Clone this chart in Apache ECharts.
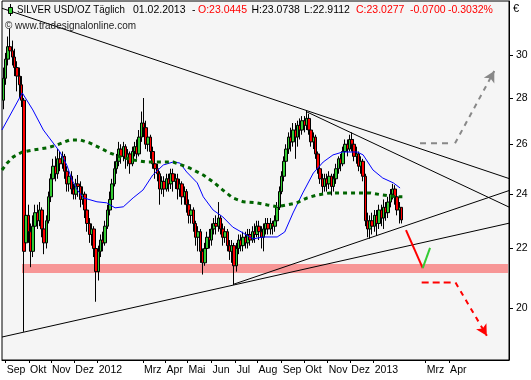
<!DOCTYPE html>
<html><head><meta charset="utf-8">
<script src="https://cdn.jsdelivr.net/npm/echarts@6/dist/echarts.min.js"></script>
<style>html,body{margin:0;padding:0;background:#fff}#c{width:531px;height:380px}</style>
</head><body><div id="c"></div>
<script>
// ---- candles: one candle every 3 calendar days, day 0 = 1 Sep 2011 ----
const candleFirstDay = -3;
const candleStepDays = 3;
const candleOpen = [
27.9,28.9,29.8,30.4,30.2,29.9,29.4,29.0,28.6,27.9,
22.2,23.2,22.6,21.9,22.8,23.3,23.0,23.4,22.7,22.2,23.0,
23.9,24.6,25.1,24.8,25.4,25.2,25.5,24.9,
24.4,24.7,24.2,24.0,24.4,24.3,23.8,24.0,23.4,22.9,22.5,22.7,22.0,21.2,
21.9,22.3,22.2,22.8,23.4,23.8,24.4,25.0,
25.3,25.8,25.5,25.9,25.4,25.6,25.2,25.7,25.9,25.6,
26.3,26.9,26.7,26.0,26.3,25.7,25.2,25.0,
24.8,24.2,24.5,24.2,24.6,24.4,24.8,24.5,24.6,24.2,24.4,
23.9,24.1,23.6,23.2,23.4,22.9,22.4,22.6,21.9,
21.5,22.0,22.4,22.3,22.7,22.9,22.8,23.1,
22.7,22.4,22.6,22.1,21.9,22.1,21.4,
22.0,22.3,22.1,22.4,22.2,22.5,22.3,22.6,22.5,22.8,22.6,22.4,22.7,22.9,22.7,22.9,22.8,
23.0,23.5,24.1,24.7,25.3,25.8,26.3,26.1,
26.6,26.3,26.8,26.6,27.0,26.8,27.1,
26.6,26.1,26.3,25.6,25.0,24.6,24.3,24.6,24.4,24.7,24.3,24.6,
25.0,25.4,25.2,25.7,26.0,25.8,26.2,
26.0,25.5,25.6,25.1,25.3,24.7,
23.0,22.7,23.0,22.8,23.2,22.9,23.4,23.1,23.5,
23.3,23.7,24.0,24.2,
23.9,23.4,23.5];
const candleClose = [
28.9,29.8,30.4,30.2,29.9,29.4,29.0,28.6,27.9,21.9,
23.2,22.6,21.9,22.8,23.3,23.0,23.4,22.7,22.2,23.0,23.9,
24.6,25.1,24.8,25.4,25.2,25.5,24.9,24.4,
24.7,24.2,24.0,24.4,24.3,23.8,24.0,23.4,22.9,22.5,22.7,22.0,21.2,21.9,
22.3,22.2,22.8,23.4,23.8,24.4,25.0,25.3,
25.8,25.5,25.9,25.4,25.6,25.2,25.7,25.9,25.6,26.3,
26.9,26.7,26.0,26.3,25.7,25.2,25.0,24.8,
24.2,24.5,24.2,24.6,24.4,24.8,24.5,24.6,24.2,24.4,23.9,
24.1,23.6,23.2,23.4,22.9,22.4,22.6,21.9,21.5,
22.0,22.4,22.3,22.7,22.9,22.8,23.1,22.7,
22.4,22.6,22.1,21.9,22.1,21.4,22.0,
22.3,22.1,22.4,22.2,22.5,22.3,22.6,22.5,22.8,22.6,22.4,22.7,22.9,22.7,22.9,22.8,23.0,
23.5,24.1,24.7,25.3,25.8,26.3,26.1,26.6,
26.3,26.8,26.6,27.0,26.8,27.1,26.6,
26.1,26.3,25.6,25.0,24.6,24.3,24.6,24.4,24.7,24.3,24.6,25.0,
25.4,25.2,25.7,26.0,25.8,26.2,26.0,
25.5,25.6,25.1,25.3,24.7,23.0,
22.7,23.0,22.8,23.2,22.9,23.4,23.1,23.5,23.3,
23.7,24.0,24.2,23.9,
23.4,23.5,23.03];
const candleLow = [
27.5,28.6,29.5,29.8,29.5,29.0,28.3,28.0,27.6,19.25,
21.9,22.2,21.35,21.7,22.5,22.7,22.8,22.4,21.8,22.0,22.9,
23.7,24.4,24.5,24.6,24.9,25.0,24.6,24.1,
24.1,24.0,23.8,23.8,23.9,23.5,23.6,23.1,22.6,22.2,22.1,21.7,20.2,20.9,
21.7,21.9,22.1,22.7,23.2,23.7,24.3,24.8,
25.1,25.2,25.3,25.0,25.1,24.8,25.1,25.5,25.4,25.5,
26.1,26.3,25.8,25.7,25.4,25.0,24.6,24.5,
23.6,24.0,23.9,24.1,24.1,24.2,24.1,24.2,23.8,23.9,23.6,
23.6,23.3,22.9,22.9,22.6,22.1,21.9,21.5,21.1,
21.4,21.8,22.0,22.1,22.5,22.5,22.6,22.5,
22.1,22.2,21.9,21.6,21.5,20.75,21.2,
21.8,21.9,21.9,22.0,22.0,22.1,22.2,22.2,22.4,22.3,22.0,21.9,22.5,22.5,22.5,22.5,22.6,
22.8,23.4,24.0,24.5,25.1,25.6,25.7,25.9,
25.4,25.9,26.2,26.4,26.5,26.6,26.4,
25.9,25.8,25.4,24.8,24.4,24.0,24.1,24.1,24.2,23.95,24.1,24.4,
24.8,24.9,25.1,25.5,25.5,25.7,25.7,
25.3,25.2,24.9,24.8,24.5,22.8,
22.4,22.35,22.5,22.6,22.45,22.7,22.8,22.7,23.0,
23.1,23.5,23.8,23.6,
23.2,22.9,22.9];
const candleHigh = [
29.4,30.1,30.9,31.3,30.7,30.3,29.7,29.4,29.0,28.0,
23.8,23.6,22.9,23.2,23.6,23.6,23.7,23.5,22.9,23.2,24.1,
24.8,25.4,25.5,25.8,25.7,25.7,25.6,25.1,
24.9,24.9,24.4,24.6,24.75,24.5,24.3,24.1,23.6,23.1,22.9,22.8,22.1,22.1,
22.5,22.6,23.0,23.6,24.1,24.6,25.3,25.6,
26.1,26.0,26.1,26.0,25.8,25.7,25.9,26.1,26.2,26.6,
27.4,28.0,27.0,26.5,26.4,25.9,25.4,25.2,
24.9,24.7,24.7,24.8,24.8,25.0,25.0,24.8,24.8,24.6,24.5,
24.3,24.2,23.8,23.6,23.5,23.0,22.8,22.7,22.0,
22.2,22.6,22.7,22.9,23.1,23.2,23.7,23.2,
22.9,22.8,22.7,22.3,22.3,22.2,22.2,
22.5,22.5,22.6,22.6,22.7,22.7,22.8,22.9,23.0,23.0,22.8,22.9,23.1,23.1,23.1,23.0,23.2,
23.7,24.3,24.9,25.5,26.0,26.5,26.7,26.9,
26.9,27.0,27.1,27.2,27.2,27.45,27.3,
26.8,26.5,26.4,25.7,25.1,24.8,24.8,24.8,24.9,24.8,24.8,25.2,
25.5,25.6,25.9,26.2,26.2,26.4,26.5,
26.2,25.9,25.7,25.5,25.4,24.8,
23.3,23.2,23.3,23.4,23.4,23.6,23.6,23.8,23.7,
23.9,24.2,24.4,24.35,
24.0,23.7,23.5];

// ---- moving averages (day, price) ----
const maFastDays = [-5,22,36,50,63,72,81,88,95,103,121,134,145,156,169,182,195,209,222,231,240,254,262,275,288,301,315,328,341,360,370,381,394,408,421,434,447,466,474,487,500,514,523];
const maFastVals = [26.6,28.23,27.47,26.6,26.05,25.68,25.15,24.55,24.16,23.86,23.71,23.67,23.48,23.52,23.86,24.16,24.75,25.15,25.27,25.23,24.87,24.44,23.9,23.4,23.14,22.77,22.55,22.34,22.41,22.41,22.59,23.29,24.05,24.83,25.27,25.56,25.68,25.68,25.56,24.95,24.63,24.44,24.24];
const maSlowDays = [-5,2,10,22,36,55,68,85,99,112,125,138,152,169,187,205,222,244,262,275,288,301,315,333,347,360,373,386,400,413,430,447,466,483,500,519,526];
const maSlowVals = [24.95,25.23,25.48,25.68,25.76,25.85,25.97,26.18,26.18,26.05,25.85,25.64,25.48,25.35,25.27,25.27,25.27,25.03,24.75,24.48,24.16,23.86,23.71,23.67,23.59,23.52,23.59,23.67,23.86,23.97,24.05,24.05,24.05,24.05,23.97,23.9,23.9];

// ---- drawn trend lines and projections (day, price) ----
const trendLines = [
  [[-4.9, 32.33], [667.4, 24.61]],
  [[399.6, 27.38], [667.4, 23.51]],
  [[302.7, 20.78], [667.4, 24.14]],
  [[-4.9, 19.09], [667.4, 22.91]]
];
const supportZone = {fromDay: 21.6, toDay: 666, low: 21.15, high: 21.46};
const projRed = [[530.8, 22.66], [553.0, 21.32]];
const projGreen = [[553.0, 21.32], [562.7, 22.02]];
const redDashFlat = [[551.6, 20.83], [593.2, 20.83]];
const redDashArrow = [[596.5, 20.83], [638.0, 19.13]];
const grayDashFlat = [[549.4, 26.04], [593.2, 26.04]];
const grayDashArrow = [[595.8, 26.04], [647.9, 29.24]];

// ---- axes ----
const dayMin = -4.9, dayMax = 667.4;
const priceMin = 18.40, priceMax = 32.71;
const priceTicks = [20, 22, 24, 26, 28, 30];
const monthTickDays = [0,31,60,91,122,182,212,241,273,305,334,366,396,427,457,488,557,588];
const monthTickLabels = ['Sep','Okt','Nov','Dez','2012','Mrz','Apr','Mai','Jun','Jul','Aug','Sep','Okt','Nov','Dez','2013','Mrz','Apr'];

const ln = Math.log;
const FONT = '"Liberation Sans", Arial, sans-serif';
const candleData = candleOpen.map((o, i) => [candleFirstDay + i * candleStepDays, ln(o), ln(candleClose[i]), ln(candleLow[i]), ln(candleHigh[i])]);
const pts = arr => arr.map(p => [p[0], ln(p[1])]);
const zip = (d, v) => d.map((x, i) => [x, ln(v[i])]);

const simpleLine = (data, color, width, type, z) => ({
  type: 'line', data: pts(data), symbol: 'none', silent: true, z: z,
  lineStyle: {color: color, width: width, type: type || 'solid'}, clip: true
});
const arrowLine = (id, data, color, dash) => ({
  id: id, type: 'line', data: pts(data), silent: true, z: 6, clip: false,
  showSymbol: true,
  symbol: (v, p) => (p.dataIndex === data.length - 1 ? 'arrow' : 'none'),
  symbolSize: [9, 11], symbolRotate: 0,
  itemStyle: {color: color, borderWidth: 0},
  lineStyle: {color: color, width: 2, type: dash}
});

const series = [
  {
    type: 'line', data: [], silent: true, z: 1,
    markArea: {
      silent: true, itemStyle: {color: '#f79696', opacity: 1},
      data: [[{xAxis: supportZone.fromDay, yAxis: ln(supportZone.high)}, {xAxis: supportZone.toDay, yAxis: ln(supportZone.low)}]]
    }
  },
  ...trendLines.map(l => simpleLine(l, '#000', 1, 'solid', 2)),
  {
    type: 'candlestick', z: 3, silent: true,
    dimensions: ['day', 'open', 'close', 'lowest', 'highest'],
    encode: {x: 'day', y: ['open', 'close', 'lowest', 'highest']},
    data: candleData, barWidth: 3,
    itemStyle: {color: '#33cc33', color0: '#ff0000', borderColor: '#000', borderColor0: '#000', borderWidth: 1}
  },
  {type: 'line', data: zip(maFastDays, maFastVals), symbol: 'none', silent: true, z: 4, lineStyle: {color: '#0000ff', width: 1}},
  {type: 'line', data: zip(maSlowDays, maSlowVals), symbol: 'none', silent: true, z: 5, lineStyle: {color: '#006400', width: 3, type: [4, 4]}},
  simpleLine(projRed, '#ff0000', 2, 'solid', 6),
  simpleLine(projGreen, '#33cc33', 2, 'solid', 6),
  simpleLine(redDashFlat, '#ff0000', 2, [7, 4], 6),
  simpleLine(grayDashFlat, '#888888', 2, [6, 5], 6),
  arrowLine('redArrow', redDashArrow, '#ff0000', [5, 5]),
  arrowLine('grayArrow', grayDashArrow, '#888888', [5, 5])
];

const txt = (x, y, text, color, size, sx) => ({
  type: 'text', x: x, y: y, silent: true, z: 100, scaleX: sx || 1,
  style: {text: text, fill: color, font: (size || 10.5) + 'px ' + FONT, verticalAlign: 'middle', align: 'left'}
});

const option = {
  animation: false,
  backgroundColor: '#ffffff',
  grid: {left: 2, right: 22, top: 1, bottom: 20, show: true, backgroundColor: '#f5f5f5', borderColor: '#000', borderWidth: 1},
  xAxis: {
    type: 'value', min: dayMin, max: dayMax,
    axisLine: {show: true, onZero: false, lineStyle: {color: '#000', width: 1}},
    splitLine: {show: false},
    axisTick: {show: true, length: 3, customValues: monthTickDays, lineStyle: {color: '#000'}},
    axisLabel: {
      customValues: monthTickDays,
      formatter: v => monthTickLabels[monthTickDays.indexOf(v)] || '',
      align: 'left', margin: 5, padding: [0, 0, 0, 1],
      fontSize: 10.5, fontFamily: FONT, color: '#000'
    }
  },
  yAxis: {
    type: 'value', position: 'right', min: ln(priceMin), max: ln(priceMax),
    axisLine: {show: true, onZero: false, lineStyle: {color: '#000', width: 1}},
    splitLine: {show: false},
    axisTick: {show: true, length: 4, customValues: priceTicks.map(ln), lineStyle: {color: '#000'}},
    axisLabel: {
      customValues: priceTicks.map(ln),
      formatter: v => String(Math.round(Math.exp(v))),
      margin: 7, fontSize: 10.5, fontFamily: FONT, color: '#000'
    }
  },
  graphic: [
    {type: 'line', silent: true, z: 100, shape: {x1: 10.5, y1: 4, x2: 10.5, y2: 16}, style: {stroke: '#000', lineWidth: 1}},
    {type: 'rect', silent: true, z: 101, shape: {x: 8.5, y: 7.5, width: 4, height: 6}, style: {fill: '#33cc33', stroke: '#000', lineWidth: 1}},
    txt(17, 10.5, 'SILVER USD/OZ Täglich', '#000', 10.5, 0.93),
    txt(133, 10.5, '01.02.2013', '#000'),
    txt(192, 10.5, '-', '#000'),
    txt(198, 10.5, 'O:23.0445', '#ff0000'),
    txt(251.5, 10.5, 'H:23.0738', '#000'),
    txt(304, 10.5, 'L:22.9112', '#000'),
    txt(356, 10.5, 'C:23.0277', '#ff0000'),
    txt(410, 10.5, '-0.0700', '#ff0000'),
    txt(448, 10.5, '-0.3032%', '#ff0000'),
    txt(5, 26, '© www.tradesignalonline.com', '#222', 10.5, 0.95),
    txt(513, 9, '€', '#000', 11)
  ],
  series: series
};

const chart = echarts.init(document.getElementById('c'), null, {renderer: 'canvas'});
chart.setOption(option);

// orient the arrow heads along their (pixel-space) line direction
const arrowRotation = seg => {
  const a = chart.convertToPixel({gridIndex: 0}, [seg[0][0], ln(seg[0][1])]);
  const b = chart.convertToPixel({gridIndex: 0}, [seg[1][0], ln(seg[1][1])]);
  return Math.atan2(-(b[0] - a[0]), -(b[1] - a[1])) * 180 / Math.PI;
};
chart.setOption({series: [
  {id: 'redArrow', symbolRotate: arrowRotation(redDashArrow)},
  {id: 'grayArrow', symbolRotate: arrowRotation(grayDashArrow)}
]});
</script>
</body></html>
